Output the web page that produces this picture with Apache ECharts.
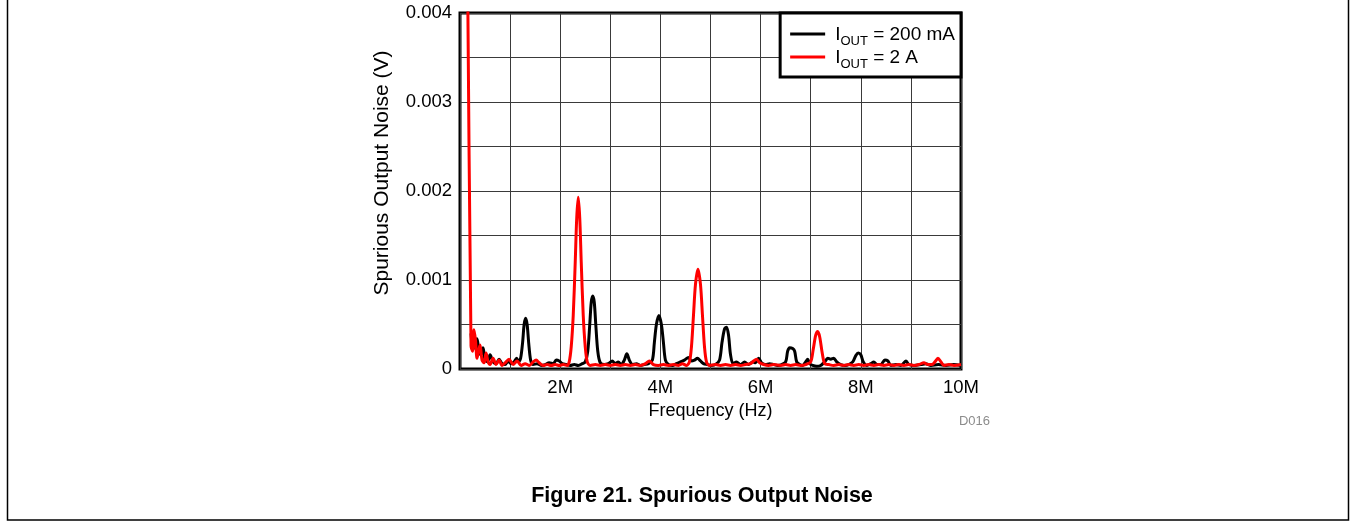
<!DOCTYPE html>
<html>
<head>
<meta charset="utf-8">
<title>Spurious Output Noise</title>
<script src="https://cdn.jsdelivr.net/npm/echarts@6/dist/echarts.min.js"></script>
<style>
  html, body { margin: 0; padding: 0; background: #fff; }
  #chart { width: 1357px; height: 529px; }
</style>
</head>
<body>
<div id="chart"></div>
<script>
// x in MHz, y in volts
const iout200mA = [
  [0.22, 0.00040], [0.26, 0.00022], [0.30, 0.00030], [0.34, 0.00034], [0.38, 0.00018],
  [0.42, 0.00016], [0.46, 0.00024], [0.50, 0.00010], [0.55, 0.00008], [0.60, 0.00016],
  [0.66, 0.00008], [0.72, 0.00006], [0.78, 0.00011], [0.84, 0.00006], [0.90, 0.00005],
  [0.96, 0.00009], [1.02, 0.00006], [1.08, 0.00008], [1.13, 0.00012], [1.17, 0.00008],
  [1.21, 0.00012], [1.25, 0.00030], [1.28, 0.00050], [1.31, 0.00057], [1.34, 0.00050],
  [1.37, 0.00030], [1.41, 0.00010], [1.46, 0.00005], [1.54, 0.00006], [1.62, 0.00004],
  [1.70, 0.00005], [1.78, 0.00007], [1.86, 0.00006], [1.92, 0.00010], [1.98, 0.00009],
  [2.04, 0.00006], [2.12, 0.00005], [2.20, 0.00004], [2.28, 0.00005], [2.36, 0.00004],
  [2.44, 0.00006], [2.50, 0.00008], [2.55, 0.00020], [2.59, 0.00050], [2.62, 0.00075],
  [2.65, 0.00082], [2.68, 0.00075], [2.71, 0.00050], [2.75, 0.00020], [2.80, 0.00007],
  [2.88, 0.00005], [2.96, 0.00006], [3.04, 0.00009], [3.10, 0.00006], [3.16, 0.00008],
  [3.22, 0.00005], [3.28, 0.00010], [3.33, 0.00017], [3.38, 0.00010], [3.44, 0.00005],
  [3.52, 0.00006], [3.60, 0.00004], [3.68, 0.00005], [3.76, 0.00006], [3.84, 0.00010],
  [3.88, 0.00030], [3.92, 0.00050], [3.97, 0.00060], [4.02, 0.00050], [4.06, 0.00030],
  [4.10, 0.00010], [4.16, 0.00005], [4.24, 0.00004], [4.32, 0.00006], [4.40, 0.00008],
  [4.48, 0.00010], [4.56, 0.00013], [4.62, 0.00009], [4.68, 0.00010], [4.74, 0.00012],
  [4.80, 0.00009], [4.86, 0.00006], [4.94, 0.00005], [5.02, 0.00004], [5.10, 0.00005],
  [5.18, 0.00010], [5.23, 0.00030], [5.28, 0.00045], [5.32, 0.00047], [5.36, 0.00038],
  [5.40, 0.00016], [5.45, 0.00006], [5.52, 0.00008], [5.60, 0.00005], [5.68, 0.00008],
  [5.76, 0.00005], [5.84, 0.00008], [5.90, 0.00007], [5.96, 0.00012], [6.02, 0.00007],
  [6.10, 0.00005], [6.18, 0.00006], [6.26, 0.00005], [6.34, 0.00004], [6.42, 0.00005],
  [6.50, 0.00008], [6.54, 0.00020], [6.58, 0.00024], [6.64, 0.00023], [6.68, 0.00020],
  [6.72, 0.00008], [6.78, 0.00005], [6.84, 0.00004], [6.90, 0.00008], [6.94, 0.00011],
  [6.98, 0.00006], [7.04, 0.00004], [7.12, 0.00003], [7.20, 0.00004], [7.28, 0.00008],
  [7.34, 0.00012], [7.40, 0.00011], [7.46, 0.00012], [7.52, 0.00008], [7.60, 0.00005],
  [7.68, 0.00004], [7.76, 0.00005], [7.84, 0.00008], [7.90, 0.00015], [7.95, 0.00018],
  [8.00, 0.00016], [8.05, 0.00008], [8.12, 0.00004], [8.20, 0.00006], [8.26, 0.00008],
  [8.32, 0.00005], [8.40, 0.00005], [8.48, 0.00010], [8.54, 0.00009], [8.60, 0.00004],
  [8.70, 0.00005], [8.80, 0.00004], [8.90, 0.00009], [8.96, 0.00005], [9.06, 0.00004],
  [9.20, 0.00005], [9.30, 0.00006], [9.40, 0.00004], [9.55, 0.00005], [9.70, 0.00004],
  [9.85, 0.00005], [10.0, 0.00004]
]

const iout2A = [
  [0.14, 0.00520], [0.22, 0.00026], [0.25, 0.00020], [0.28, 0.00044], [0.31, 0.00032],
  [0.34, 0.00012], [0.37, 0.00020], [0.40, 0.00027], [0.44, 0.00010], [0.48, 0.00007],
  [0.52, 0.00018], [0.56, 0.00008], [0.60, 0.00005], [0.66, 0.00012], [0.72, 0.00005],
  [0.78, 0.00010], [0.84, 0.00004], [0.90, 0.00007], [0.98, 0.00011], [1.06, 0.00005],
  [1.14, 0.00009], [1.22, 0.00004], [1.30, 0.00006], [1.38, 0.00004], [1.46, 0.00008],
  [1.52, 0.00010], [1.58, 0.00007], [1.66, 0.00004], [1.74, 0.00005], [1.82, 0.00004],
  [1.90, 0.00005], [1.98, 0.00004], [2.06, 0.00005], [2.14, 0.00004], [2.18, 0.00008],
  [2.22, 0.00025], [2.26, 0.00060], [2.30, 0.00120], [2.33, 0.00170], [2.36, 0.00193],
  [2.39, 0.00170], [2.42, 0.00120], [2.46, 0.00060], [2.50, 0.00025], [2.54, 0.00008],
  [2.60, 0.00004], [2.70, 0.00005], [2.80, 0.00004], [2.90, 0.00005], [3.00, 0.00004],
  [3.10, 0.00005], [3.20, 0.00004], [3.30, 0.00005], [3.40, 0.00004], [3.50, 0.00005],
  [3.60, 0.00004], [3.70, 0.00006], [3.78, 0.00009], [3.86, 0.00005], [3.96, 0.00004],
  [4.06, 0.00005], [4.16, 0.00004], [4.26, 0.00005], [4.36, 0.00004], [4.44, 0.00006],
  [4.52, 0.00004], [4.58, 0.00008], [4.62, 0.00025], [4.66, 0.00060], [4.70, 0.00095],
  [4.75, 0.00112], [4.80, 0.00095], [4.84, 0.00060], [4.88, 0.00025], [4.92, 0.00008],
  [4.98, 0.00004], [5.10, 0.00005], [5.20, 0.00004], [5.30, 0.00005], [5.40, 0.00004],
  [5.50, 0.00005], [5.60, 0.00004], [5.70, 0.00005], [5.80, 0.00006], [5.86, 0.00009],
  [5.92, 0.00011], [5.98, 0.00007], [6.06, 0.00005], [6.16, 0.00004], [6.26, 0.00005],
  [6.40, 0.00004], [6.50, 0.00005], [6.60, 0.00004], [6.70, 0.00005], [6.80, 0.00004],
  [6.90, 0.00005], [7.00, 0.00008], [7.05, 0.00022], [7.10, 0.00038], [7.14, 0.00042],
  [7.18, 0.00036], [7.23, 0.00018], [7.28, 0.00006], [7.36, 0.00005], [7.46, 0.00004],
  [7.56, 0.00005], [7.66, 0.00004], [7.76, 0.00005], [7.86, 0.00004], [7.96, 0.00005],
  [8.06, 0.00004], [8.16, 0.00005], [8.26, 0.00004], [8.36, 0.00005], [8.46, 0.00004],
  [8.56, 0.00005], [8.66, 0.00004], [8.76, 0.00005], [8.86, 0.00004], [8.96, 0.00005],
  [9.06, 0.00004], [9.16, 0.00005], [9.26, 0.00007], [9.34, 0.00005], [9.42, 0.00005],
  [9.48, 0.00008], [9.54, 0.00012], [9.60, 0.00008], [9.66, 0.00004], [9.76, 0.00005],
  [9.86, 0.00004], [10.0, 0.00005]
]

const xTickLabels = ["2M", "4M", "6M", "8M", "10M"]
const yTickLabels = ["0", "0.001", "0.002", "0.003", "0.004"]

const font = "Liberation Sans, Arial, sans-serif"
const chart = echarts.init(document.getElementById("chart"))

chart.setOption({
  animation: false,
  textStyle: { fontFamily: font },
  title: {
    text: "Figure 21. Spurious Output Noise",
    left: 697,
    textAlign: "center",
    top: 480,
    textStyle: { fontFamily: font, fontSize: 21.5, fontWeight: "bold", color: "#000" },
  },
  grid: {
    left: 460,
    top: 13,
    width: 501,
    height: 356,
    show: true,
    borderColor: "#000",
    borderWidth: 3,
    backgroundColor: "transparent",
  },
  legend: {
    orient: "vertical",
    right: 396,
    top: 13,
    padding: [12, 6, 6, 10],
    itemGap: 0,
    itemWidth: 35,
    itemHeight: 3,
    icon: "rect",
    borderColor: "#000",
    borderWidth: 3,
    backgroundColor: "#fff",
    data: ["200 mA", "2 A"],
    formatter: name => "{i|I}{s|OUT}{t| = " + name + "}",
    textStyle: {
      fontFamily: font,
      color: "#000",
      rich: {
        i: { fontSize: 19, lineHeight: 18, verticalAlign: "top", padding: [0, 0, 0, 5], fontFamily: font },
        s: { fontSize: 13, lineHeight: 12, verticalAlign: "top", padding: [10, 0, 0, 0], fontFamily: font },
        t: { fontSize: 19, lineHeight: 18, verticalAlign: "top", fontFamily: font },
      },
    },
  },
  xAxis: {
    type: "value",
    min: 0,
    max: 10,
    interval: 1,
    name: "Frequency (Hz)",
    nameLocation: "middle",
    nameGap: 33,
    nameTextStyle: { fontFamily: font, fontSize: 18, color: "#000" },
    axisLine: { show: false },
    axisTick: { show: false },
    axisLabel: {
      margin: 9,
      fontFamily: font,
      fontSize: 18.5,
      color: "#000",
      formatter: v => (v > 0 && v % 2 === 0 ? xTickLabels[v / 2 - 1] : ""),
    },
    splitLine: { lineStyle: { color: "#3a3a3a", width: 1 } },
  },
  yAxis: {
    type: "value",
    min: 0,
    max: 0.004,
    interval: 0.0005,
    axisLine: { show: false },
    axisTick: { show: false },
    axisLabel: {
      margin: 8,
      fontFamily: font,
      fontSize: 18.5,
      color: "#000",
      formatter: v => {
        const k = Math.round(v * 2000)
        return k % 2 === 0 ? yTickLabels[k / 2] : ""
      },
    },
    splitLine: { lineStyle: { color: "#3a3a3a", width: 1 } },
  },
  graphic: [
    {
      type: "rect",
      shape: { x: 7.5, y: -10, width: 1341, height: 530 },
      style: { fill: "none", stroke: "#000", lineWidth: 1.5 },
      silent: true,
    },
    {
      type: "text",
      x: 382,
      y: 173,
      rotation: Math.PI / 2,
      style: {
        text: "Spurious Output Noise (V)",
        fontFamily: font,
        fontSize: 21,
        fill: "#000",
        align: "center",
        verticalAlign: "middle",
      },
    },
    {
      type: "text",
      x: 990,
      y: 421,
      style: {
        text: "D016",
        fontFamily: font,
        fontSize: 13,
        fill: "#8c8c8c",
        align: "right",
        verticalAlign: "middle",
      },
    },
  ],
  series: [
    {
      name: "200 mA",
      type: "line",
      data: iout200mA,
      showSymbol: false,
      smooth: 0.3,
      clip: true,
      lineStyle: { color: "#000", width: 3 },
      itemStyle: { color: "#000" },
    },
    {
      name: "2 A",
      type: "line",
      data: iout2A,
      showSymbol: false,
      smooth: 0.3,
      clip: true,
      lineStyle: { color: "#ff0000", width: 3 },
      itemStyle: { color: "#ff0000" },
    },
  ],
})
</script>
</body>
</html>
